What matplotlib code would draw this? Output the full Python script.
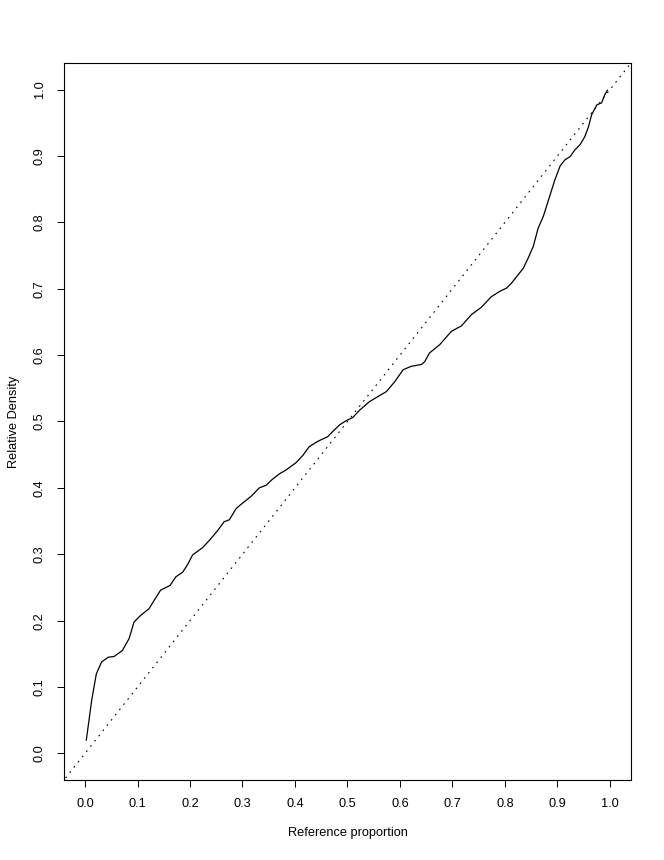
import numpy as np
import matplotlib
matplotlib.use('Agg')
import matplotlib.pyplot as plt

# relative density curve
ref_prop = [0.0025, 0.0127, 0.0216, 0.0318, 0.0445, 0.0553, 0.0712, 0.084, 0.0935,
            0.106, 0.122, 0.132, 0.144, 0.162, 0.173, 0.186, 0.195, 0.205, 0.224,
            0.237, 0.253, 0.265, 0.275, 0.288, 0.300, 0.316, 0.332, 0.345, 0.357,
            0.370, 0.383, 0.402, 0.415, 0.427, 0.443, 0.462, 0.472, 0.485, 0.497,
            0.510, 0.523, 0.542, 0.561, 0.574, 0.590, 0.606, 0.621, 0.641, 0.647,
            0.656, 0.676, 0.698, 0.717, 0.736, 0.755, 0.774, 0.790, 0.803, 0.812,
            0.835, 0.844, 0.854, 0.863, 0.873, 0.885, 0.895, 0.905, 0.914, 0.924,
            0.933, 0.943, 0.952, 0.959, 0.965, 0.975, 0.984, 0.990, 0.995]
rel_density = [0.020, 0.080, 0.120, 0.138, 0.145, 0.146, 0.155, 0.173, 0.198,
               0.208, 0.218, 0.231, 0.246, 0.253, 0.266, 0.273, 0.284, 0.299, 0.310,
               0.321, 0.336, 0.349, 0.352, 0.369, 0.377, 0.387, 0.400, 0.404, 0.413,
               0.421, 0.427, 0.438, 0.449, 0.462, 0.470, 0.477, 0.485, 0.495, 0.501,
               0.506, 0.517, 0.530, 0.539, 0.545, 0.560, 0.578, 0.583, 0.586, 0.590,
               0.603, 0.616, 0.636, 0.644, 0.661, 0.672, 0.688, 0.696, 0.701, 0.708,
               0.731, 0.746, 0.764, 0.791, 0.809, 0.839, 0.864, 0.885, 0.894, 0.899,
               0.909, 0.917, 0.929, 0.944, 0.962, 0.977, 0.980, 0.992, 0.999]
ticks = [0.0, 0.1, 0.2, 0.3, 0.4, 0.5, 0.6, 0.7, 0.8, 0.9, 1.0]

plt.rcParams['font.family'] = ['Liberation Sans', 'DejaVu Sans']
fs = 9.2

fig = plt.figure(figsize=(6.64, 8.6), dpi=100)
ax = fig.add_axes([64 / 664, 1 - 780 / 860, 567 / 664, 717 / 860])

ax.plot(ref_prop, rel_density, color='black', linewidth=0.9)
ax.plot([-0.1, 1.1], [-0.1, 1.1], color='black', linewidth=0.8,
        linestyle=(0, (1.5, 4.5)))

ax.set_xlim(-0.04, 1.04)
ax.set_ylim(-0.04, 1.04)
ax.set_xticks(ticks)
ax.set_yticks(ticks)
ax.set_xticklabels([f'{t:.1f}' for t in ticks], fontsize=fs)
ax.set_yticklabels([f'{t:.1f}' for t in ticks], fontsize=fs, rotation=90, va='center')
ax.tick_params(direction='out', length=5, width=0.7, pad=8)

for s in ax.spines.values():
    s.set_linewidth(0.8)

ax.set_xlabel('Reference proportion', fontsize=fs)
ax.set_ylabel('Relative Density', fontsize=fs)
ax.xaxis.set_label_coords(0.5, -0.066)
ax.yaxis.set_label_coords(-0.078, 0.5)

fig.savefig('out.png', dpi=100)
